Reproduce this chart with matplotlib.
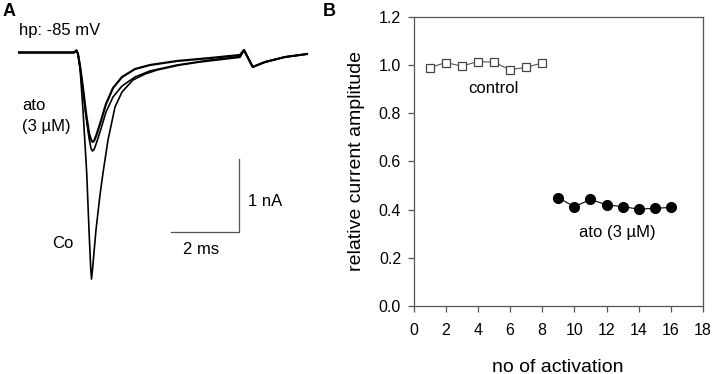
import matplotlib
matplotlib.use('Agg')
import matplotlib.pyplot as plt
from matplotlib.ticker import FormatStrFormatter

plt.rcParams['font.family'] = ['Liberation Sans', 'DejaVu Sans']

# Panel A: current traces (time in ms, current in nA)
co_t = [0.0, 1.608, 1.681, 1.725, 1.784, 1.871, 1.980, 2.047, 2.095, 2.120, 2.150, 2.251,
        2.368, 2.456, 2.602, 2.807, 3.012, 3.333, 3.684, 4.035, 4.708, 5.292, 6.462,
        6.579, 6.833, 7.193, 7.778, 8.421]
co_i = [0.0, 0.0, 0.028, -0.021, -0.213, -0.791, -1.657, -2.442, -2.950, -3.116, -2.980, -2.442,
        -1.960, -1.657, -1.204, -0.750, -0.543, -0.378, -0.296, -0.241, -0.172, -0.131, -0.066,
        0.034, -0.199, -0.131, -0.062, -0.021]

ato1_t = [0.0, 1.608, 1.681, 1.725, 1.784, 1.871, 1.959, 2.047, 2.105, 2.149, 2.195, 2.260, 2.368,
          2.544, 2.749, 3.012, 3.392, 3.830, 4.620, 5.585, 6.462, 6.579, 6.833, 7.193,
          7.778, 8.421]
ato1_i = [0.0, 0.0, 0.028, -0.021, -0.186, -0.488, -0.832, -1.107, -1.200, -1.231, -1.215, -1.140, -0.983,
          -0.708, -0.488, -0.337, -0.227, -0.172, -0.117, -0.076, -0.034, 0.034, -0.199, -0.131,
          -0.062, -0.021]

ato2_t = [0.0, 1.608, 1.681, 1.725, 1.784, 1.871, 1.959, 2.047, 2.105, 2.149, 2.195, 2.260, 2.368,
          2.544, 2.749, 3.012, 3.392, 3.830, 4.620, 5.585, 6.462, 6.579, 6.833, 7.193,
          7.778, 8.421]
ato2_i = [0.0, 0.0, 0.028, -0.021, -0.186, -0.516, -0.873, -1.176, -1.320, -1.355, -1.335, -1.250, -1.094,
          -0.818, -0.612, -0.461, -0.337, -0.254, -0.172, -0.103, -0.055, 0.034, -0.199, -0.131,
          -0.062, -0.021]

# Panel B: relative current amplitude per activation
control_x = [1, 2, 3, 4, 5, 6, 7, 8]
control_y = [0.988, 1.010, 0.995, 1.014, 1.011, 0.980, 0.990, 1.008]
ato_x = [9, 10, 11, 12, 13, 14, 15, 16]
ato_y = [0.449, 0.412, 0.442, 0.420, 0.412, 0.402, 0.405, 0.409]

W, H = 713, 374


def fx(x):
    return x / W


def fy(y):
    return 1 - y / H


fig = plt.figure(figsize=(W / 100, H / 100), dpi=100)

# ---- panel A ----
axA = fig.add_axes([0, 0, 320 / W, 1])
axA.set_xlim(-19 / 34.2, (320 - 19) / 34.2)
axA.set_ylim(-(374 - 52.5) / 72.7, 52.5 / 72.7)
axA.axis('off')
axA.plot(co_t, co_i, color='black', lw=1.2)
axA.plot(ato2_t, ato2_i, color='black', lw=1.2)
axA.plot(ato1_t, ato1_i, color='black', lw=1.6)

# scale bar: 2 ms / 1 nA
sb_t = (171 - 19) / 34.2
sb_i = -(232 - 52.5) / 72.7
axA.plot([sb_t, sb_t + 2, sb_t + 2], [sb_i, sb_i, sb_i + 1], color='#555555', lw=0.9)

fig.text(fx(3), fy(12), 'A', fontsize=13, fontweight='bold', va='center', ha='left')
fig.text(fx(19), fy(30), 'hp: -85 mV', fontsize=12, va='center', ha='left')
fig.text(fx(22), fy(106), 'ato', fontsize=12, va='center', ha='left')
fig.text(fx(22), fy(127), '(3 µM)', fontsize=12, va='center', ha='left')
fig.text(fx(52), fy(243), 'Co', fontsize=12, va='center', ha='left')
fig.text(fx(248), fy(201), '1 nA', fontsize=12, va='center', ha='left')
fig.text(fx(201), fy(250), '2 ms', fontsize=12, va='center', ha='center')

# ---- panel B ----
axB = fig.add_axes([fx(413.5), fy(306), (703 - 413.5) / W, (306 - 16.7) / H])
axB.plot(control_x, control_y, color='#555555', lw=0.8, marker='s', ms=6,
         mfc='white', mec='#444444', mew=0.9)
axB.plot(ato_x, ato_y, color='black', lw=0.8, marker='o', ms=7, mfc='black', mec='black')
axB.set_xlim(0, 18)
axB.set_ylim(0, 1.2)
axB.set_xticks(range(0, 19, 2))
axB.set_yticks([0, 0.2, 0.4, 0.6, 0.8, 1.0, 1.2])
axB.yaxis.set_major_formatter(FormatStrFormatter('%.1f'))
for s in axB.spines.values():
    s.set_color('#555555')
    s.set_linewidth(0.9)
axB.tick_params(direction='out', length=4.5, width=0.9, color='#555555',
                labelsize=11.5, top=False, right=False)
axB.tick_params(axis='x', pad=7.5)
axB.tick_params(axis='y', pad=4.5)
axB.set_xlabel('no of activation', fontsize=14, labelpad=15)
axB.set_ylabel('relative current amplitude', fontsize=14, labelpad=10)
axB.text(5.0, 0.902, 'control', fontsize=12, ha='center', va='center')
axB.text(12.7, 0.303, 'ato (3 µM)', fontsize=12, ha='center', va='center')

fig.text(fx(323), fy(12), 'B', fontsize=13, fontweight='bold', va='center', ha='left')

fig.savefig('out.png', dpi=100)
